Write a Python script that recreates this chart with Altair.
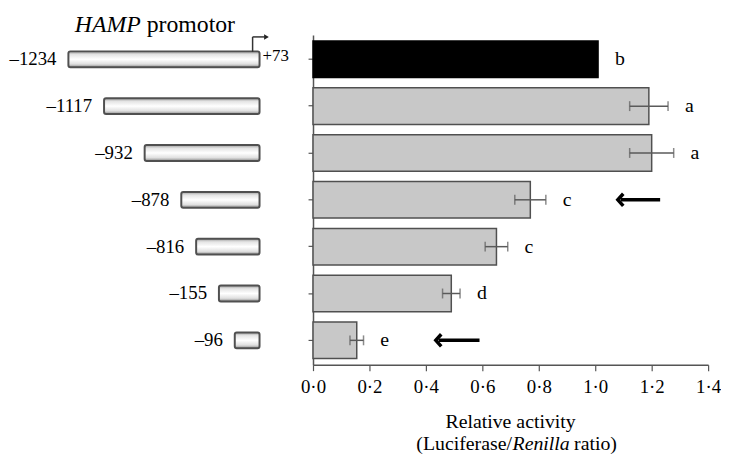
import altair as alt
import pandas as pd

# ---- data ----
constructs = ["–1234", "–1117", "–932", "–878", "–816", "–155", "–96"]
diagram_len = [193, 157, 116, 79, 64, 41, 25]          # schematic construct length (arbitrary units)
activity = [1.01, 1.19, 1.20, 0.77, 0.65, 0.49, 0.155]
sem = [0.0, 0.068, 0.078, 0.055, 0.04, 0.031, 0.024]
letters = ["b", "a", "a", "c", "c", "d", "e"]
kind = ["full", "del", "del", "del", "del", "del", "del"]
arrow_rows = ["–878", "–96"]
arrow_tip = [1.08, 0.435]
arrow_tail = [1.23, 0.59]
tick_values = [0.0, 0.2, 0.4, 0.6, 0.8, 1.0, 1.2, 1.4]

FONT = "Liberation Serif"
H = 333

df = pd.DataFrame(dict(construct=constructs, length=diagram_len, activity=activity,
                       sem=sem, letter=letters, kind=kind))
df["lo"] = df["activity"] - df["sem"]
df["hi"] = df["activity"] + df["sem"]
df["neg"] = -df["length"]
err_df = df[df["sem"] > 0]

ysc = alt.Scale(paddingInner=0.22, paddingOuter=0.13)

# ---------------- left panel: promoter constructs ----------------
yL = alt.Y("construct:N", sort=constructs, scale=ysc, axis=None)
xL_scale = alt.Scale(domain=[-254, 41], nice=False, zero=False)

base_l = alt.Chart(df)
grad = alt.LinearGradient(
    gradient="linear", x1=0, y1=0, x2=0, y2=1,
    stops=[alt.GradientStop(offset=0, color="#9c9c9c"),
           alt.GradientStop(offset=0.2, color="#e4e4e4"),
           alt.GradientStop(offset=0.5, color="#ffffff"),
           alt.GradientStop(offset=0.8, color="#e0e0e0"),
           alt.GradientStop(offset=1, color="#8c8c8c")])
constructs_bars = base_l.mark_bar(size=16, fill=grad, stroke="#505050", strokeWidth=2,
                                  cornerRadius=2).encode(
    x=alt.X("neg:Q", scale=xL_scale, axis=None), x2=alt.datum(0), y=yL)
construct_labels = base_l.mark_text(align="right", baseline="middle", dx=-12,
                                    font=FONT, fontSize=19, color="black").encode(
    x=alt.X("neg:Q", scale=xL_scale), y=yL, text="construct:N")

top = pd.DataFrame(dict(construct=[constructs[0]], pos=[0], lab=["+73"]))
plus73 = alt.Chart(top).mark_text(align="left", baseline="middle", dx=3, dy=-3,
                                  font=FONT, fontSize=17, color="black").encode(
    x=alt.X("pos:Q", scale=xL_scale), y=yL, text="lab:N")

tss = pd.DataFrame(dict(x0=[-7], x1=[5], xh=[7]))
tss_v = alt.Chart(tss).mark_rule(color="#333", strokeWidth=1.5).encode(
    x=alt.X("x0:Q", scale=xL_scale), y=alt.value(17), y2=alt.value(2))
tss_h = alt.Chart(tss).mark_rule(color="#333", strokeWidth=1.5).encode(
    x=alt.X("x0:Q", scale=xL_scale), x2="x1:Q", y=alt.value(2))
tss_head = alt.Chart(tss).mark_point(shape="triangle-right", size=30, filled=True,
                                     color="#222", opacity=1).encode(
    x=alt.X("xh:Q", scale=xL_scale), y=alt.value(2))

ttl = pd.DataFrame(dict(x=[-120, -114], t=["HAMP", "promotor"]))
ttl_it = alt.Chart(ttl.iloc[[0]]).mark_text(align="right", baseline="alphabetic", font=FONT,
                                            fontSize=24, fontStyle="italic", color="black").encode(
    x=alt.X("x:Q", scale=xL_scale), y=alt.value(-3), text="t:N")
ttl_rm = alt.Chart(ttl.iloc[[1]]).mark_text(align="left", baseline="alphabetic", font=FONT,
                                            fontSize=24, color="black").encode(
    x=alt.X("x:Q", scale=xL_scale), y=alt.value(-3), text="t:N")

left = alt.layer(constructs_bars, construct_labels, plus73, tss_v, tss_h, tss_head,
                 ttl_it, ttl_rm).properties(width=295, height=H)

# ---------------- right panel: relative activity ----------------
xsc = alt.Scale(domain=[0, 1.4], nice=False, zero=True)
yR = alt.Y("construct:N", sort=constructs, scale=ysc,
           axis=alt.Axis(labels=False, title=None, ticks=True, tickSize=5, tickColor="#555",
                         domainColor="#555", domainWidth=1.5, tickWidth=1.2, grid=False))
xaxis = alt.Axis(values=tick_values, labelExpr="replace(format(datum.value, '.1f'), '.', '·')",
                 title=None, grid=False, tickSize=6, tickColor="#555", tickWidth=1.2,
                 domainColor="#555", domainWidth=1.5, labelFont=FONT, labelFontSize=19,
                 labelColor="black", labelPadding=7, labelFlush=False)

base_r = alt.Chart(df)
bars = base_r.mark_bar(strokeWidth=1.5).encode(
    x=alt.X("activity:Q", scale=xsc, axis=xaxis),
    y=yR,
    fill=alt.Fill("kind:N", scale=alt.Scale(domain=["full", "del"], range=["#000000", "#c8c8c8"]),
                  legend=None),
    stroke=alt.Stroke("kind:N", scale=alt.Scale(domain=["full", "del"], range=["#000000", "#505050"]),
                      legend=None))

err_base = alt.Chart(err_df)
err_rule = err_base.mark_rule(color="#5a5a5a", strokeWidth=1.5).encode(
    x=alt.X("lo:Q", scale=xsc), x2="hi:Q", y=yR)
cap_lo = err_base.mark_tick(color="#5a5a5a", thickness=1.5, size=10).encode(
    x=alt.X("lo:Q", scale=xsc), y=yR)
cap_hi = err_base.mark_tick(color="#5a5a5a", thickness=1.5, size=10).encode(
    x=alt.X("hi:Q", scale=xsc), y=yR)

letter_txt = base_r.mark_text(align="left", baseline="middle", dx=17, font=FONT,
                              fontSize=20, color="black").encode(
    x=alt.X("hi:Q", scale=xsc), y=yR, text="letter:N")

arr = pd.DataFrame(dict(construct=arrow_rows, tip=arrow_tip, tail=arrow_tail))
arr["shaft"] = arr["tip"] + 0.01
arrow_shaft = alt.Chart(arr).mark_rule(color="black", strokeWidth=3.5).encode(
    x=alt.X("shaft:Q", scale=xsc), x2="tail:Q", y=yR)
arrow_head = alt.Chart(arr).mark_point(shape="M 0.9 -1 L 0 0 L 0.9 1", size=150, filled=False,
                                       stroke="black", strokeWidth=3.5, opacity=1,
                                       strokeJoin="miter").encode(
    x=alt.X("tip:Q", scale=xsc), y=yR)

# axis title built from text marks (mixed italic)
t1 = pd.DataFrame(dict(x=[0.7], t=["Relative activity"]))
t2a = pd.DataFrame(dict(x=[0.705], t=["(Luciferase/"]))
t2b = pd.DataFrame(dict(x=[0.707], t=["Renilla"]))
t2c = pd.DataFrame(dict(x=[0.925], t=["ratio)"]))
title1 = alt.Chart(t1).mark_text(align="center", baseline="alphabetic", font=FONT, fontSize=20,
                                 color="black").encode(
    x=alt.X("x:Q", scale=xsc), y=alt.value(397), text="t:N")
title2a = alt.Chart(t2a).mark_text(align="right", baseline="alphabetic", font=FONT, fontSize=20,
                                   color="black").encode(
    x=alt.X("x:Q", scale=xsc), y=alt.value(419), text="t:N")
title2b = alt.Chart(t2b).mark_text(align="left", baseline="alphabetic", font=FONT, fontSize=20,
                                   fontStyle="italic", color="black").encode(
    x=alt.X("x:Q", scale=xsc), y=alt.value(419), text="t:N")
title2c = alt.Chart(t2c).mark_text(align="left", baseline="alphabetic", font=FONT, fontSize=20,
                                   color="black").encode(
    x=alt.X("x:Q", scale=xsc), y=alt.value(419), text="t:N")

right = alt.layer(bars, err_rule, cap_lo, cap_hi, letter_txt, arrow_shaft, arrow_head,
                  title1, title2a, title2b, title2c).properties(width=399, height=H)

chart = alt.hconcat(left, right, spacing=0).properties(
    padding={"top": 3, "left": 0, "right": 0, "bottom": 0},
    background="white").configure_view(strokeWidth=0)

chart.save("out.html", embed_options={"renderer": "svg", "actions": False})
